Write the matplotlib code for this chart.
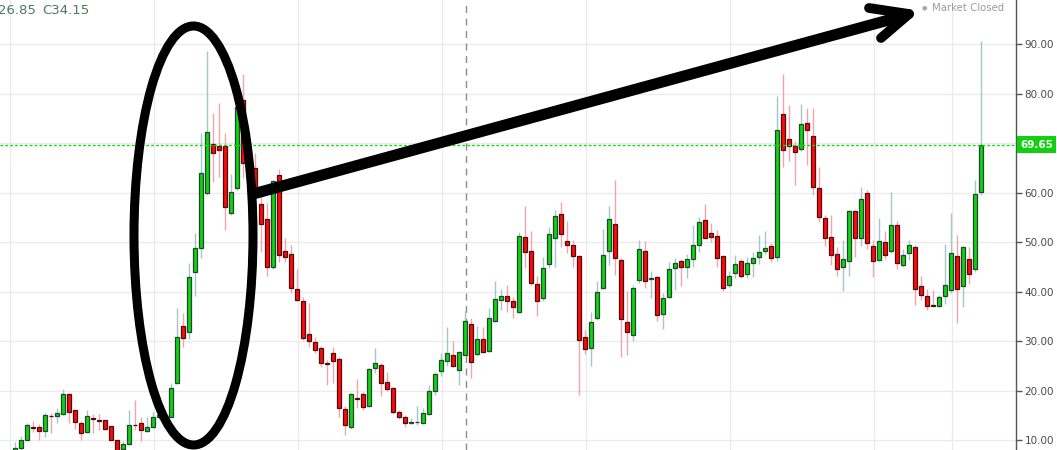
import matplotlib
matplotlib.use("Agg")
import matplotlib.pyplot as plt
from matplotlib.patches import Ellipse
from matplotlib.lines import Line2D
import matplotlib.transforms as mtransforms
import numpy as np

# ---------------- data ----------------
opens = [7.5, 8.4, 10.1, 12.7, 12.6, 11.9, 14.95, 14.9, 15.2, 19.2,
         16.0, 13.4, 11.6, 14.5, 14.0, 14.0, 12.8, 9.9, 8.2, 9.2,
         13.1, 13.5, 11.8, 12.6, 14.7, 15.05, 14.6, 21.5, 33.1, 31.8,
         43.9, 48.7, 60.0, 69.9, 69.5, 69.5, 55.8, 61.0, 78.7, 67.0,
         64.9, 57.6, 54.6, 45.0, 63.5, 48.1, 47.5, 40.6, 38.0, 31.4,
         29.9, 28.5, 25.5, 27.5, 26.4, 16.2, 12.6, 18.4, 19.2, 16.9,
         24.5, 25.2, 21.7, 20.6, 15.6, 14.6, 13.45, 13.55, 13.4, 15.2,
         19.9, 23.9, 26.0, 27.1, 24.1, 27.2, 33.4, 27.4, 30.5, 28.0,
         34.0, 38.3, 39.1, 38.1, 35.8, 51.1, 48.2, 41.5, 38.6, 45.5,
         50.9, 55.6, 50.3, 49.3, 47.1, 30.9, 28.5, 34.6, 40.8, 48.1,
         53.6, 46.3, 33.9, 31.2, 42.3, 48.2, 42.55, 42.9, 35.4, 38.8,
         44.7, 46.2, 45.0, 46.6, 49.5, 54.4, 51.8, 51.3, 47.1, 41.3,
         43.7, 46.1, 43.5, 45.7, 47.0, 48.2, 49.2, 47.0, 75.9, 70.9,
         69.5, 68.7, 74.0, 71.5, 60.9, 54.8, 51.1, 47.5, 45.0, 46.1,
         56.2, 50.9, 60.0, 49.2, 46.4, 50.1, 48.1, 53.4, 45.4, 47.8,
         48.9, 41.1, 39.0, 37.25, 37.0, 39.0, 40.3, 47.1, 41.2, 46.6,
         44.6, 60.2]
highs = [9.5, 10.8, 13.4, 13.8, 13.2, 15.5, 15.5, 16.5, 20.4, 19.4,
         16.1, 13.9, 16.1, 15.2, 15.2, 14.1, 12.9, 10.0, 9.7, 16.1,
         18.1, 14.6, 14.7, 15.7, 15.6, 16.1, 21.5, 36.6, 35.6, 45.8,
         51.8, 72.0, 88.6, 76.0, 78.1, 72.0, 63.7, 78.0, 83.9, 72.5,
         67.9, 59.2, 57.8, 62.6, 64.7, 50.9, 49.4, 44.5, 38.8, 37.7,
         30.8, 29.0, 26.2, 28.8, 26.8, 16.9, 19.4, 22.3, 19.6, 24.5,
         28.5, 25.6, 23.8, 20.7, 16.0, 15.0, 14.4, 16.9, 16.4, 21.1,
         23.8, 27.6, 32.9, 30.1, 28.0, 36.1, 34.6, 33.0, 32.8, 36.6,
         42.1, 40.5, 41.3, 38.9, 52.0, 57.2, 52.2, 43.1, 46.9, 53.1,
         56.5, 58.0, 54.3, 50.5, 47.4, 32.2, 35.9, 42.1, 52.7, 57.3,
         62.5, 46.8, 40.1, 41.3, 50.4, 50.3, 44.1, 43.2, 39.6, 46.0,
         46.7, 46.5, 47.6, 53.4, 55.1, 57.6, 53.8, 52.5, 47.3, 44.2,
         47.4, 46.6, 46.9, 48.0, 51.4, 52.2, 49.9, 79.5, 83.9, 77.7,
         70.5, 77.9, 77.0, 77.0, 65.1, 55.5, 55.5, 49.0, 50.5, 56.5,
         56.5, 61.2, 60.6, 50.5, 54.8, 52.2, 60.2, 54.2, 48.5, 50.5,
         49.3, 43.1, 40.6, 40.3, 39.2, 49.6, 55.8, 51.4, 49.2, 48.9,
         62.5, 90.6]
lows = [7.0, 8.0, 9.9, 11.6, 9.9, 10.7, 11.4, 13.5, 15.0, 13.4,
        12.2, 9.9, 11.35, 11.4, 12.0, 12.0, 9.9, 7.0, 7.9, 9.0,
        12.0, 9.7, 11.7, 12.5, 14.2, 14.3, 14.5, 21.3, 28.7, 30.5,
        39.0, 46.8, 59.5, 62.2, 63.2, 52.4, 55.5, 60.5, 63.0, 60.5,
        58.5, 48.0, 43.1, 44.5, 46.0, 46.0, 39.8, 38.0, 30.2, 28.8,
        27.5, 24.8, 21.1, 21.6, 14.7, 11.0, 12.2, 16.4, 16.1, 16.7,
        23.6, 18.9, 20.0, 15.2, 14.2, 12.7, 13.3, 13.0, 13.3, 15.0,
        19.1, 22.9, 25.0, 24.8, 21.1, 26.9, 22.5, 27.0, 27.5, 27.8,
        33.8, 36.3, 35.9, 34.6, 35.6, 44.8, 41.3, 35.1, 38.1, 44.8,
        45.0, 48.9, 47.8, 45.0, 19.0, 27.3, 25.0, 34.3, 40.5, 45.4,
        43.3, 26.8, 27.2, 30.1, 41.7, 40.8, 38.7, 34.1, 32.4, 38.6,
        40.4, 41.1, 42.8, 44.9, 48.0, 50.8, 50.1, 45.0, 40.2, 41.0,
        42.7, 42.7, 42.8, 43.0, 45.6, 47.5, 46.0, 46.2, 65.1, 66.4,
        61.5, 68.3, 65.6, 59.5, 54.0, 49.1, 45.4, 43.1, 40.2, 43.1,
        47.0, 49.1, 48.5, 43.0, 46.2, 46.6, 47.8, 44.5, 45.0, 46.4,
        37.3, 38.3, 36.3, 37.0, 36.8, 37.5, 39.8, 33.7, 36.8, 41.5,
        44.0, 59.6]
closes = [8.4, 10.1, 13.0, 12.5, 11.9, 15.0, 14.8, 15.4, 19.2, 15.7,
          13.6, 11.35, 14.8, 14.3, 13.8, 12.3, 10.1, 7.6, 9.2, 13.0,
          12.95, 12.0, 12.7, 14.7, 15.1, 14.4, 20.6, 30.9, 30.7, 43.0,
          48.7, 63.9, 72.3, 67.9, 68.5, 57.0, 60.2, 77.3, 66.0, 64.5,
          60.2, 53.6, 44.9, 62.4, 47.3, 46.9, 40.8, 38.2, 30.7, 30.0,
          28.2, 25.5, 25.3, 26.0, 16.4, 13.0, 19.2, 18.2, 16.7, 24.3,
          25.5, 21.6, 20.4, 15.7, 14.6, 13.4, 13.5, 13.6, 15.4, 19.9,
          23.3, 26.2, 27.5, 25.0, 27.7, 34.1, 25.7, 30.5, 27.8, 34.6,
          38.4, 39.1, 38.1, 36.9, 51.3, 47.9, 41.8, 38.0, 44.7, 51.7,
          55.2, 51.6, 49.3, 47.1, 30.3, 28.3, 33.8, 40.0, 47.3, 54.6,
          46.7, 34.4, 31.8, 40.8, 48.5, 42.1, 42.65, 35.2, 38.6, 44.5,
          45.7, 45.0, 46.5, 49.3, 54.0, 50.9, 51.1, 46.7, 40.8, 43.2,
          45.6, 43.1, 45.8, 46.7, 47.9, 48.7, 46.7, 72.6, 68.6, 69.4,
          68.1, 73.8, 72.6, 61.2, 55.1, 50.9, 47.4, 44.5, 46.6, 56.2,
          50.9, 58.6, 49.9, 46.1, 50.3, 47.3, 53.4, 45.8, 47.3, 49.3,
          40.6, 39.2, 37.0, 37.15, 38.8, 41.3, 47.7, 40.6, 48.9, 43.5,
          59.8, 69.65]

last_price = 69.65
y_ticks = [10, 20, 30, 40, 50, 60, 70, 80, 90]
x_grid = [-0.8, 23.2, 47.2, 71.2, 95.2, 119.2, 143.2, 156.2]
crosshair_x = 75.2
header_values = ["26.85", "C34.15"]

# ---------------- figure ----------------
W, H = 1057, 450
fig = plt.figure(figsize=(W / 100, H / 100), dpi=100)
ax = fig.add_axes([0, 0, 1016 / W, 1])
ax.set_facecolor("white")

ax.set_xlim(-2.5, 166.83)
ax.set_ylim(7.98, 98.9)

# grid
for yv in y_ticks:
    ax.axhline(yv, color="#ebebeb", lw=1.0, zorder=0)
for xv in x_grid:
    ax.axvline(xv, color="#ebebeb", lw=1.0, zorder=0)
ax.axvline(crosshair_x, color="#8c8c8c", lw=1.0, ls=(0, (5, 4)), zorder=1)

# candles
idx = np.arange(len(opens))
o = np.array(opens); c = np.array(closes); h = np.array(highs); l = np.array(lows)
up = c >= o
green_fill, green_edge, green_wick = "#12d312", "#1c4a2a", "#a6c6cb"
red_fill, red_edge, red_wick = "#ff0a0a", "#4d0d0d", "#f2a4ae"

ax.vlines(idx[up], l[up], h[up], color=green_wick, lw=1.0, zorder=2)
ax.vlines(idx[~up], l[~up], h[~up], color=red_wick, lw=1.0, zorder=2)

bottoms = np.minimum(o, c)
heights = np.maximum(np.abs(c - o), 0.15)
ax.bar(idx[up], heights[up], bottom=bottoms[up], width=0.72,
       color=green_fill, edgecolor=green_edge, linewidth=0.9, zorder=3)
ax.bar(idx[~up], heights[~up], bottom=bottoms[~up], width=0.72,
       color=red_fill, edgecolor=red_edge, linewidth=0.9, zorder=3)

# last price line
ax.axhline(last_price, color="#11dd11", lw=1.0, ls=(0, (2, 1.5)), zorder=4)

# axis styling
for s in ["top", "left", "bottom"]:
    ax.spines[s].set_visible(False)
ax.spines["right"].set_color("#555555")
ax.spines["right"].set_linewidth(1.0)
ax.yaxis.tick_right()
ax.set_yticks(y_ticks)
# the 70.00 label is hidden behind the last-price marker in the reference
ax.set_yticklabels(["" if abs(v - last_price) < 2 else f"{v:.2f}" for v in y_ticks])
ax.tick_params(axis="y", direction="out", length=4, width=1, color="#555555",
               labelsize=7.5, labelcolor="#4a4a4a", pad=2)
ax.set_xticks([])

# price label
trans = mtransforms.blended_transform_factory(ax.transAxes, ax.transData)
ax.text(1.004, last_price, f"{last_price:.2f}", transform=trans, ha="left", va="center",
        color="white", fontsize=7.5, fontweight="bold", clip_on=False,
        bbox=dict(boxstyle="square,pad=0.32", fc="#10d010", ec="none"))

# header texts
fig.text(-2 / W, 1 - 11 / H, header_values[0], color="#4b7a5f", fontsize=9.5, va="center", ha="left")
fig.text(42 / W, 1 - 11 / H, header_values[1], color="#4b7a5f", fontsize=9.5, va="center", ha="left")
fig.text(922 / W, 1 - 8 / H, "\u25cf", color="#a8a8a8", fontsize=4.5, va="center", ha="left")
fig.text(932 / W, 1 - 8 / H, "Market Closed", color="#9c9c9c", fontsize=7.3, va="center", ha="left")

# hand-drawn annotations (pixel positions -> figure fraction)
def fx(px):
    return px / W

def fy(py):
    return 1 - py / H

ell = Ellipse((fx(193.5), fy(235.5)), width=2 * 59.5 / W, height=2 * 209.5 / H,
              transform=fig.transFigure, fill=False, ec="black", lw=6.5, zorder=10)
fig.add_artist(ell)

shaft = Line2D([fx(253), fx(907)], [fy(194), fy(15)], transform=fig.transFigure,
               color="black", lw=8, solid_capstyle="butt", zorder=10)
fig.add_artist(shaft)
barb1 = Line2D([fx(869), fx(909)], [fy(8), fy(14)], transform=fig.transFigure,
               color="black", lw=7, solid_capstyle="round", zorder=10)
barb2 = Line2D([fx(881), fx(909)], [fy(38), fy(14)], transform=fig.transFigure,
               color="black", lw=7, solid_capstyle="round", zorder=10)
fig.add_artist(barb1)
fig.add_artist(barb2)

fig.savefig("out.png", dpi=100, facecolor="white")
